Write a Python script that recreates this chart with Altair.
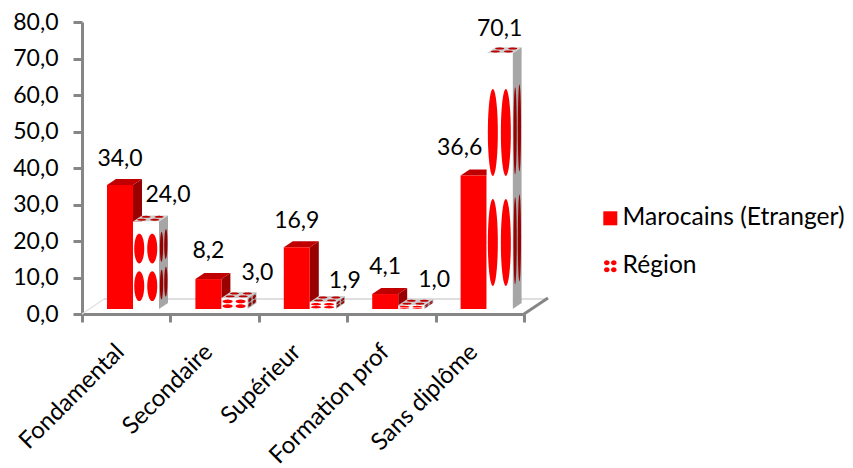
import json
import numpy as np
import pandas as pd
import altair as alt

categories = ["Fondamental", "Secondaire", "Supérieur", "Formation prof", "Sans diplôme"]
maroc = [34.0, 8.2, 16.9, 4.1, 36.6]
region = [24.0, 3.0, 1.9, 1.0, 70.1]
series_names = ["Marocains (Etranger)", "Région"]

W, H = 442, 292
PX = 5 / W            # one pixel in x units
PY = 80 / H           # one pixel in y units
BASE = 5 * PY
BAR = 26 * PX
START = 25 * PX
DX = 9 * PX
DY = 6 * PY

X = alt.Scale(domain=[0, 5], nice=False, zero=False)
Y = alt.Scale(domain=[0, 80], nice=False, zero=False)

label_expr = "(%s)[datum.value] || ''" % json.dumps(categories, ensure_ascii=False)
X_AXIS = alt.Axis(
    title=None, values=[0, 1, 2, 3, 4, 5], labelExpr=label_expr, labelAngle=315, labelAlign="right",
    labelBaseline="middle", labelOffset=38, labelPadding=26, labelOverlap=False, labelBound=False,
    labelFlush=False, grid=False, domainColor="#868686", domainWidth=3, tickColor="#868686",
    tickWidth=3, tickSize=8, labelFont="Lato", labelFontSize=24, labelColor="#000000")
Y_AXIS = alt.Axis(
    title=None, values=list(range(0, 81, 10)), labelExpr="replace(format(datum.value, '.1f'), '.', ',')",
    grid=False, domainColor="#868686", domainWidth=3, tickColor="#868686", tickWidth=3,
    tickSize=9, labelFont="Lato", labelFontSize=23, labelColor="#000000", labelPadding=15,
    labelBound=False, labelOverlap=False)
XE = alt.X("x:Q", scale=X, axis=X_AXIS)
YE = alt.Y("y:Q", scale=Y, axis=Y_AXIS)


def poly_top(x0, h, w=BAR):
    return [(x0, h, h), (x0 + DX, h + DY, h), (x0 + w, h + DY, h), (x0 + w + DX, h + DY, h + DY)]


def poly_side(x1, h):
    return [(x1, h, BASE), (x1 + DX, h + DY, BASE + DY)]


def frame(polys):
    rows = []
    for i, p in enumerate(polys):
        for j, (x, y, y2) in enumerate(p):
            rows.append({"x": float(x), "y": float(y), "y2": float(y2), "id": i})
    return pd.DataFrame(rows)


def area(polys, color):
    return alt.Chart(frame(polys)).mark_area(color=color, interpolate="linear").encode(
        x=XE, y=YE, y2=alt.Y2("y2:Q"), detail="id:N",
    )


def ellipse(cx, cy, rx, ry, slope=0.0):
    pts = []
    for t in np.linspace(0, np.pi, 21):
        dx = -rx * np.cos(t)
        half = ry * np.sin(t)
        c = cy + slope * dx
        pts.append((cx + dx, c + half, c - half))
    return pts


red_x = [i + START for i in range(5)]
reg_x = [x + BAR for x in red_x]

red_fronts = pd.DataFrame({"x": red_x, "x2": [x + BAR for x in red_x],
                           "y": [v + BASE for v in maroc], "y2": [BASE] * 5})
reg_fronts = pd.DataFrame({"x": reg_x, "x2": [x + BAR for x in reg_x],
                           "y": [v + BASE for v in region], "y2": [BASE] * 5})

front_ell, side_ell, top_ell = [], [], []
for x0, v in zip(reg_x, region):
    h = v + BASE
    for fy in (0.31, 0.74):
        cy = h - fy * v
        for fx in (0.24, 0.74):
            front_ell.append(ellipse(x0 + fx * BAR, cy, 5 * PX, 0.17 * v))
        for fx in (0.28, 0.76):
            sx = x0 + BAR + fx * DX
            side_ell.append(ellipse(sx, cy + fx * DY, 1.6 * PX, 0.17 * v, DY / DX))
    for fv in (0.28, 0.76):
        for fx in (0.24, 0.74):
            top_ell.append(ellipse(x0 + fx * BAR + fv * DX, h + fv * DY, 4.5 * PX, 1.0 * PY))


def rect(df, color):
    return alt.Chart(df).mark_rect(color=color).encode(x=XE, x2="x2:Q", y=YE, y2="y2:Q")


def seg(xs, ys, color, sw):
    return alt.Chart(pd.DataFrame({"x": xs, "y": ys})).mark_line(color=color, strokeWidth=sw, clip=False).encode(
        x=XE, y=YE)


floor_back = seg([22 * PX, 5 + 24 * PX], [15 * PY, 15 * PY], "#BFBFBF", 1.2)
floor_left = seg([0, 22 * PX], [0, 15 * PY], "#E0E0E0", 1.2)
floor_right = seg([5, 5 + 24 * PX], [0, 16 * PY], "#868686", 3)

# data labels
fmt = lambda v: f"{v:.1f}".replace(".", ",")
label_dx_a = [0, 0, 0, 0, -14]
label_dx_b = [22, 23, 22, 23, 0]
label_dy_a = [26, 28, 26, 27, 27]
label_dy_b = [26, 25, 21, 25, 24]
label_rows = []
for x0, v, d, e in zip(red_x, maroc, label_dx_a, label_dy_a):
    label_rows.append({"x": x0 + BAR / 2 + d * PX, "y": v + BASE + e * PY, "t": fmt(v)})
for x0, v, d, e in zip(reg_x, region, label_dx_b, label_dy_b):
    label_rows.append({"x": x0 + BAR / 2 + d * PX, "y": v + BASE + e * PY, "t": fmt(v)})
labels = alt.Chart(pd.DataFrame(label_rows)).mark_text(
    font="Lato", fontSize=23, color="#000000", align="center", baseline="middle", clip=False).encode(
    x=XE, y=YE, text="t:N")

# legend
dots = "M-0.9,-0.5a0.4,0.36 0 1,0 0.8,0a0.4,0.36 0 1,0 -0.8,0Z M0.1,-0.5a0.4,0.36 0 1,0 0.8,0a0.4,0.36 0 1,0 -0.8,0Z M-0.9,0.5a0.4,0.36 0 1,0 0.8,0a0.4,0.36 0 1,0 -0.8,0Z M0.1,0.5a0.4,0.36 0 1,0 0.8,0a0.4,0.36 0 1,0 -0.8,0Z"
legend_layer = alt.Chart(pd.DataFrame({"s": series_names, "x": [0.0, 0.0], "y": [0.0, 0.0]})).mark_point(
    opacity=0, filled=True, color="#FF0000").encode(
    x=XE, y=YE,
    shape=alt.Shape("s:N", scale=alt.Scale(domain=series_names, range=["M-1,-1H1V1H-1Z", dots]),
                    legend=alt.Legend(title=None, orient="none", legendX=516, legendY=184,
                                      labelFont="Lato", labelFontSize=24.6, labelColor="#000000",
                                      labelLimit=400,
                                      symbolFillColor="#FF0000", symbolStrokeColor="#FF0000",
                                      symbolStrokeWidth=0, symbolOpacity=1,
                                      symbolSize=196, rowPadding=23, labelOffset=0)),
)

layers = [
    floor_left, floor_back, floor_right,
    area([poly_side(x + BAR, v + BASE) for x, v in zip(red_x, maroc)], "#990000"),
    area([poly_top(x, v + BASE) for x, v in zip(red_x, maroc)], "#C00000"),
    rect(red_fronts, "#FF0000"),
    area([poly_side(x + BAR, v + BASE) for x, v in zip(reg_x, region)], "#A6A6A6"),
    area([poly_top(x, v + BASE) for x, v in zip(reg_x, region)], "#CFCFCF"),
    rect(reg_fronts, "#FFFFFF"),
    area(side_ell, "#990000"),
    area(top_ell, "#C00000"),
    area(front_ell, "#FF0000"),
    labels, legend_layer,
]

chart = alt.layer(*layers).properties(
    width=W, height=H,
    autosize=alt.AutoSizeParams(type="none"),
    padding={"left": 74, "top": 14, "right": 321, "bottom": 153},
).configure_view(stroke=None)

chart.save("out.html", embed_options={"renderer": "svg", "actions": False})
